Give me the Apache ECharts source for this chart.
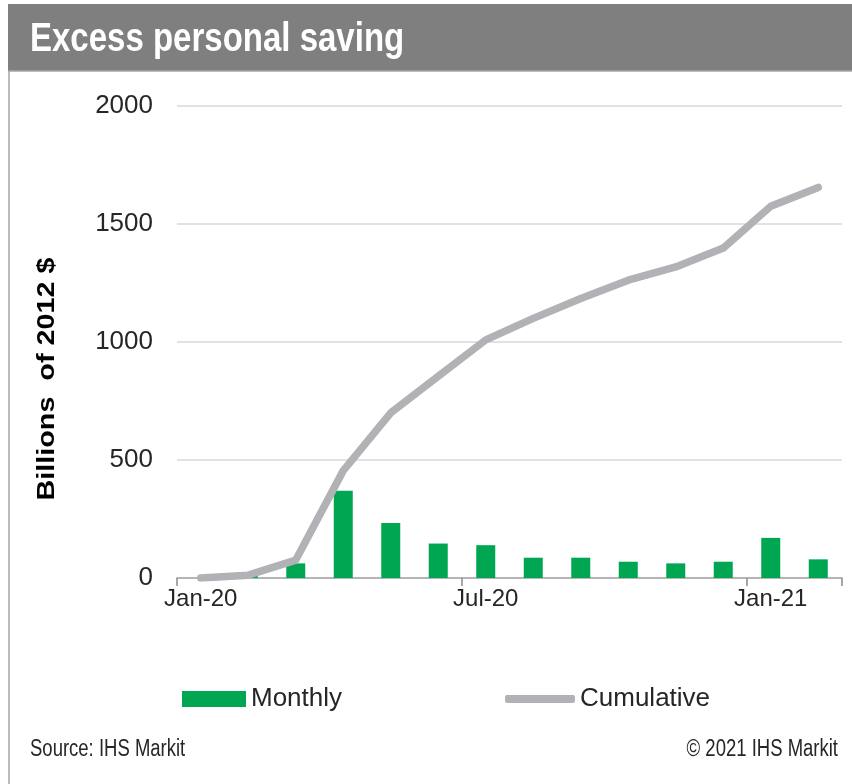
<!DOCTYPE html>
<html style="height: 100%">
  <head>
    <meta charset="utf-8" />
  </head>
  <body style="height: 100%; margin: 0; background: #fff">
    <div id="container" style="width: 852px; height: 784px"></div>

    <script
      type="text/javascript"
      src="https://cdn.jsdelivr.net/npm/echarts@6/dist/echarts.min.js"
    ></script>

    <script type="text/javascript">
      // months, Jan-20 .. Feb-21
      var months = [
        "Jan-20", "Feb-20", "Mar-20", "Apr-20", "May-20", "Jun-20", "Jul-20",
        "Aug-20", "Sep-20", "Oct-20", "Nov-20", "Dec-20", "Jan-21", "Feb-21"
      ];
      // billions of 2012 $
      var monthly = [0, 12, 62, 370, 233, 146, 139, 86, 86, 69, 62, 69, 170, 79];
      var cumulative = [0, 12, 76, 455, 700, 855, 1009, 1100, 1184, 1262, 1318, 1398, 1575, 1655];
      var yTicks = [0, 500, 1000, 1500, 2000];

      var font = "'Liberation Sans', Arial, sans-serif";
      var textColor = "#262626";
      var green = "#00a651";
      var grey = "#b1b2b6";

      var dom = document.getElementById("container");
      var myChart = echarts.init(dom, null, { renderer: "canvas" });

      var option = {
        animation: false,
        backgroundColor: "#fff",
        textStyle: { fontFamily: font },
        grid: {
          left: 177,
          right: 10,
          top: 106,
          bottom: 206,
          containLabel: false
        },
        legend: [
          {
            data: [{ name: "Monthly", icon: "rect" }],
            left: 177,
            top: 681,
            itemWidth: 64,
            itemHeight: 16,
            textStyle: { fontSize: 26, color: textColor, fontFamily: font }
          },
          {
            data: [
              {
                name: "Cumulative",
                icon: "roundRect",
                itemStyle: { color: grey, borderWidth: 0 }
              }
            ],
            left: 500,
            top: 681,
            itemWidth: 70,
            itemHeight: 8,
            textStyle: { fontSize: 26, color: textColor, fontFamily: font }
          }
        ],
        xAxis: {
          type: "category",
          data: months,
          boundaryGap: true,
          axisLine: { lineStyle: { color: "#a6a6a6", width: 1.5 } },
          axisTick: {
            show: true,
            length: 8,
            interval: function (i) {
              return i % 6 === 0;
            },
            lineStyle: { color: "#8c8c8c", width: 1.5 }
          },
          axisLabel: {
            interval: function (i) {
              return i % 6 === 0;
            },
            fontSize: 24,
            color: textColor,
            margin: 9
          },
          splitLine: { show: false }
        },
        yAxis: {
          type: "value",
          min: yTicks[0],
          max: yTicks[yTicks.length - 1],
          interval: 500,
          axisLine: { show: false },
          axisTick: { show: false },
          axisLabel: {
            fontSize: 26,
            color: textColor,
            margin: 24,
            formatter: function (v) {
              return String(v);
            }
          },
          splitLine: { lineStyle: { color: "#d9d9d9", width: 1.5 } }
        },
        graphic: [
          // title band
          {
            type: "rect",
            shape: { x: 8, y: 4, width: 844, height: 67 },
            style: { fill: "#7f7f7f" }
          },
          {
            type: "line",
            shape: { x1: 8, y1: 71, x2: 852, y2: 71 },
            style: { stroke: "#a6a6a6", lineWidth: 1.5 }
          },
          {
            type: "line",
            shape: { x1: 9, y1: 71, x2: 9, y2: 784 },
            style: { stroke: "#a6a6a6", lineWidth: 1.5 }
          },
          {
            type: "text",
            x: 30,
            y: 40,
            scaleY: 1.25,
            style: {
              text: "Excess personal saving",
              fill: "#fff",
              font: "bold 33px " + font,
              textVerticalAlign: "middle"
            }
          },
          // y axis title
          {
            type: "text",
            x: 48,
            y: 379,
            rotation: Math.PI / 2,
            scaleX: 1.25,
            style: {
              text: "Billions  of 2012 $",
              fill: "#000",
              font: "bold 23px " + font,
              textAlign: "center",
              textVerticalAlign: "middle"
            }
          },
          // footer
          {
            type: "text",
            x: 30,
            y: 750,
            scaleY: 1.25,
            style: {
              text: "Source: IHS Markit",
              fill: textColor,
              font: "18.5px " + font,
              textVerticalAlign: "middle"
            }
          },
          {
            type: "text",
            x: 838,
            y: 750,
            scaleY: 1.25,
            style: {
              text: "\u00a9 2021 IHS Markit",
              fill: textColor,
              font: "18.5px " + font,
              textAlign: "right",
              textVerticalAlign: "middle"
            }
          }
        ],
        series: [
          {
            name: "Monthly",
            type: "bar",
            data: monthly,
            barWidth: 19,
            itemStyle: { color: green }
          },
          {
            name: "Cumulative",
            type: "line",
            data: cumulative,
            symbol: "none",
            lineStyle: { color: grey, width: 7.5, cap: "round", join: "round" },
            itemStyle: { color: grey },
            z: 3
          }
        ]
      };

      myChart.setOption(option);
    </script>
  </body>
</html>
